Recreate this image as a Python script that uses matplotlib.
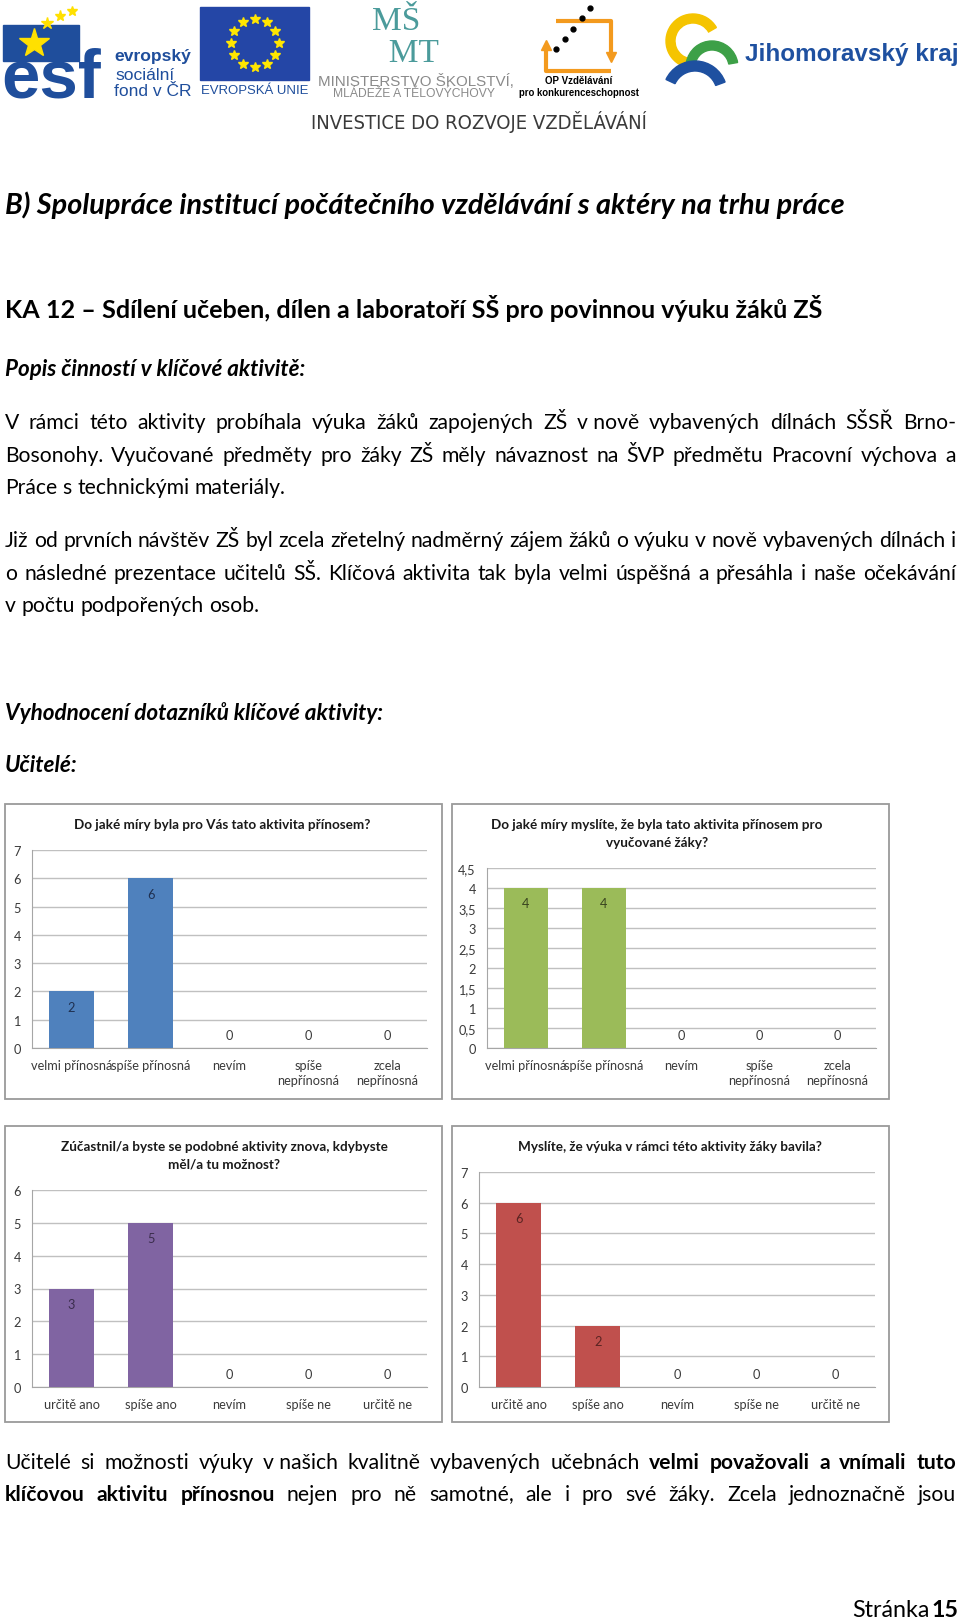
import unicodedata

import matplotlib
matplotlib.use("Agg")
import matplotlib.pyplot as plt
import numpy as np
from matplotlib.patches import Rectangle, Wedge

W, H = 960, 1624
FONT = ["Lato", "DejaVu Sans"]

Q1_TITLE = ["Do jaké míry byla pro Vás tato aktivita přínosem?"]
Q2_TITLE = ["Do jaké míry myslíte, že byla tato aktivita přínosem pro", "vyučované žáky?"]
Q3_TITLE = ["Zúčastnil/a byste se podobné aktivity znova, kdybyste", "měl/a tu možnost?"]
Q4_TITLE = ["Myslíte, že výuka v rámci této aktivity žáky bavila?"]
BENEFIT_LABELS = ["velmi přínosná", "spíše přínosná", "nevím", "spíše\nnepřínosná", "zcela\nnepřínosná"]
YESNO_LABELS = ["určitě ano", "spíše ano", "nevím", "spíše ne", "určitě ne"]
Q1_VALUES = [2, 6, 0, 0, 0]
Q2_VALUES = [4, 4, 0, 0, 0]
Q3_VALUES = [3, 5, 0, 0, 0]
Q4_VALUES = [6, 2, 0, 0, 0]

HEADING = "B) Spolupráce institucí počátečního vzdělávání s aktéry na trhu práce"
KA_TITLE = "KA 12 – Sdílení učeben, dílen a laboratoří SŠ pro povinnou výuku žáků ZŠ"
POPIS = "Popis činností v klíčové aktivitě:"
PARA1 = [
    "V rámci této aktivity probíhala výuka žáků zapojených ZŠ v\u00a0nově vybavených dílnách SŠSŘ Brno-",
    "Bosonohy. Vyučované předměty pro žáky ZŠ měly návaznost na ŠVP předmětu Pracovní výchova a",
    "Práce s technickými materiály.",
]
PARA2 = [
    "Již od prvních návštěv ZŠ byl zcela zřetelný nadměrný zájem žáků o výuku v nově vybavených dílnách i",
    "o následné prezentace učitelů SŠ. Klíčová aktivita tak byla velmi úspěšná a přesáhla i naše očekávání",
    "v počtu podpořených osob.",
]
EVAL = "Vyhodnocení dotazníků klíčové aktivity:"
TEACHERS = "Učitelé:"
PARA3 = [
    [("Učitelé si možnosti výuky v\u00a0našich kvalitně vybavených učebnách", False),
     ("velmi považovali a vnímali tuto", True)],
    [("klíčovou aktivitu přínosnou", True),
     ("nejen pro ně samotné, ale i pro své žáky. Zcela jednoznačně jsou", False)],
]

plt.rcParams["font.family"] = FONT
fig = plt.figure(figsize=(W / 100, H / 100), dpi=100)
page = fig.add_axes([0, 0, 1, 1])
page.set_xlim(0, W)
page.set_ylim(H, 0)
page.axis("off")
renderer = fig.canvas.get_renderer()


def text_width(s, size, **kw):
    t = page.text(0, 0, s, fontsize=size, **kw)
    w = t.get_window_extent(renderer).width
    t.remove()
    return w


def fit(s, width, **kw):
    return 10 * width / text_width(s, 10, **kw)


# ---------------- header logos ----------------
ESF_BLUE = "#1f4e9c"
page.add_patch(Rectangle((3, 26), 76, 36, color=ESF_BLUE))
page.plot([34], [44], marker="*", ms=22, color="#ffe000", mec="#ffe000")
for sx, sy, ms in [(47, 24, 9), (60, 17, 8), (72, 12, 7)]:
    page.plot([sx], [sy], marker="*", ms=ms, color="#ffe000")
sans_kw = dict(family=["Liberation Sans", "DejaVu Sans"])
page.text(1, 98, "esf", fontsize=fit("esf", 100, fontweight="bold", **sans_kw), color=ESF_BLUE,
          va="baseline", fontweight="bold", **sans_kw)
s_esf = fit("evropský", 77, fontweight="bold", **sans_kw)
page.text(114, 57, "evropský", fontsize=s_esf, fontweight="bold", color=ESF_BLUE, va="center", **sans_kw)
page.text(116, 75, "sociální", fontsize=s_esf, color=ESF_BLUE, va="center", **sans_kw)
page.text(114, 91, "fond v ČR", fontsize=s_esf, color=ESF_BLUE, va="center", **sans_kw)

page.add_patch(Rectangle((200, 8), 109, 73, color="#2446a6"))
ang = np.linspace(0, 2 * np.pi, 13)[:-1]
page.plot(254.5 + 24 * np.cos(ang), 44 + 24 * np.sin(ang), ls="none", marker="*", ms=7, color="#ffe600")
page.text(255, 91, "EVROPSKÁ UNIE", fontsize=fit("EVROPSKÁ UNIE", 107, **sans_kw), color=ESF_BLUE,
          ha="center", va="center", **sans_kw)

serif_kw = dict(family=["Liberation Serif", "DejaVu Serif"])
page.text(372, 6, "MŠ\n  MT", fontsize=24, color="#4b9b9b", va="top", linespacing=1.1, **serif_kw)
page.text(416, 81, "MINISTERSTVO ŠKOLSTVÍ,", fontsize=fit("MINISTERSTVO ŠKOLSTVÍ,", 196, **sans_kw),
          color="#8a8a8a", ha="center", va="center", **sans_kw)
page.text(414, 94, "MLÁDEŽE A TĚLOVÝCHOVY", fontsize=fit("MLÁDEŽE A TĚLOVÝCHOVY", 161, **sans_kw),
          color="#8a8a8a", ha="center", va="center", **sans_kw)

orange = "#f39a1e"
page.plot([556, 611, 611], [22, 22, 58], color=orange, lw=3, solid_capstyle="butt")
page.plot([611], [58], marker="v", ms=7, color=orange)
page.plot([546, 546, 611], [46, 72, 72], color=orange, lw=3, solid_capstyle="butt")
page.plot([546], [46], marker="^", ms=7, color=orange)
page.plot(np.linspace(590, 556, 5), np.linspace(9, 50, 5), ls="none", marker="o", ms=3.5, color="black")
op_kw = dict(fontweight="bold", **sans_kw)
page.text(579, 81, "OP Vzdělávání", fontsize=fit("OP Vzdělávání", 67, **op_kw), ha="center", va="center", **op_kw)
page.text(579, 93, "pro konkurenceschopnost", fontsize=fit("pro konkurenceschopnost", 120, **op_kw),
          ha="center", va="center", **op_kw)

page.add_patch(Wedge((693, 42), 27, 100, 330, width=9, color="#f5c400"))
page.add_patch(Wedge((712, 68), 26, 190, 350, width=9, color="#3da047"))
page.add_patch(Wedge((695, 94), 32, 205, 340, width=10, color="#1e50a0"))
page.text(745, 54, "Jihomoravský kraj", fontsize=fit("Jihomoravský kraj", 213, **op_kw), color="#1e50a0",
          va="center", **op_kw)

inv_kw = dict(family=["DejaVu Sans"], fontstretch="condensed")
page.text(479, 122, "INVESTICE DO ROZVOJE VZDĚLÁVÁNÍ",
          fontsize=fit("INVESTICE DO ROZVOJE VZDĚLÁVÁNÍ", 337, **inv_kw), color="#3a3a3a",
          ha="center", va="center", **inv_kw)

# ---------------- document text ----------------
X0, X1 = 5, 956
page.text(X0, 205, HEADING, fontsize=fit(HEADING, 835, fontweight="bold", style="italic"),
          fontweight="bold", style="italic", va="center")
page.text(X0, 308, KA_TITLE, fontsize=fit(KA_TITLE, 819, fontweight="bold"), fontweight="bold", va="center")
page.text(X0, 370, POPIS, fontsize=fit(POPIS, 299, fontweight="bold", style="italic"),
          fontweight="bold", style="italic", va="center")
s_eval = fit(EVAL, 378, fontweight="bold", style="italic")
page.text(X0, 713, EVAL, fontsize=s_eval, fontweight="bold", style="italic", va="center")
page.text(X0, 766, TEACHERS, fontsize=s_eval, fontweight="bold", style="italic", va="center")

body = fit("Práce s technickými materiály.", 283)


def tokens_of(segments):
    out = []
    for s, b in segments:
        s = unicodedata.normalize("NFC", s)
        out += [(w, b) for w in s.split(" ") if w]
    return out


def weight(b):
    return "bold" if b else "normal"


all_lines = [tokens_of([(l, False)]) for l in PARA1 + PARA2] + [tokens_of(l) for l in PARA3]
space = text_width("a a", body) - 2 * text_width("a", body)
for toks in all_lines:
    nat = sum(text_width(t, body, fontweight=weight(b)) for t, b in toks) + space * (len(toks) - 1)
    if nat > X1 - X0:
        body *= (X1 - X0) / nat
space = text_width("a a", body) - 2 * text_width("a", body)
base_off = 0.27 * body * 100 / 72


def put_word(x, y, t, b):
    # a trailing comma is drawn on its own so it can't nudge the word's baseline
    if t.endswith(",") and len(t) > 1:
        stem = t[:-1]
        page.text(x, y, stem, fontsize=body, fontweight=weight(b), va="baseline")
        page.text(x + text_width(stem, body, fontweight=weight(b)), y, ",", fontsize=body,
                  fontweight=weight(b), va="baseline")
    else:
        page.text(x, y, t, fontsize=body, fontweight=weight(b), va="baseline")


def put_line(toks, y, justify=True):
    widths = [text_width(t, body, fontweight=weight(b)) for t, b in toks]
    gap = (X1 - X0 - sum(widths)) / (len(toks) - 1) if justify else space
    x = X0
    for (t, b), w in zip(toks, widths):
        put_word(x, y + base_off, t, b)
        x += w + gap


for lines, ys in [(PARA1, [423, 456, 488]), (PARA2, [541, 574, 606])]:
    for i, (l, y) in enumerate(zip(lines, ys)):
        put_line(tokens_of([(l, False)]), y, justify=i < len(lines) - 1)
for l, y in zip(PARA3, [1463, 1495]):
    put_line(tokens_of(l), y)

page_size = body * 1.1
w15 = text_width("15", page_size, fontweight="bold")
page.text(958, 1611 + base_off * 1.1, "15", fontsize=page_size, fontweight="bold", ha="right", va="baseline")
page.text(958 - w15 - space * 0.35, 1611 + base_off * 1.1, "Stránka", fontsize=page_size, ha="right",
          va="baseline")

# ---------------- charts ----------------
title_size = fit(Q1_TITLE[0], 296, fontweight="bold")
tick_size = fit("spíše přínosná", 75) * 1.06


def bar_chart(box, plot, title, title_ys, title_x, labels, values, color, label_color, ymax, step):
    bx0, by0, bx1, by1 = box
    page.add_patch(Rectangle((bx0, by0), bx1 - bx0, by1 - by0, fill=False, ec="#9a9a9a", lw=1.3))
    for line, ty in zip(title, title_ys):
        page.text(title_x, ty, line, fontsize=title_size, fontweight="bold", ha="center", va="center",
                  color="#1a1a1a")
    px0, py0, px1, py1 = plot
    ax = fig.add_axes([px0 / W, 1 - py1 / H, (px1 - px0) / W, (py1 - py0) / H])
    x = np.arange(len(values))
    ax.bar(x, values, width=0.57, color=color, zorder=3)
    ax.set_xlim(-0.5, len(values) - 0.5)
    ax.set_ylim(0, ymax)
    ticks = np.arange(0, ymax + step / 2, step)
    ax.set_yticks(ticks, [f"{t:g}".replace(".", ",") for t in ticks])
    ax.set_xticks(x, labels)
    for lab in ax.get_xticklabels():
        lab.set_linespacing(1.3)
    ax.yaxis.grid(True, color="#c0c0c0", lw=1)
    ax.set_axisbelow(True)
    for s in ["top", "right"]:
        ax.spines[s].set_visible(False)
    for s in ["left", "bottom"]:
        ax.spines[s].set_color("#a6a6a6")
    ax.tick_params(length=0, labelsize=tick_size, colors="#3a3a3a")
    ax.tick_params(axis="y", pad=8)
    ax.tick_params(axis="x", pad=8)
    for xi, v in zip(x, values):
        if v > 0:
            ax.annotate(str(v), (xi, v), xytext=(0, -11), textcoords="offset points", ha="center",
                        va="center", fontsize=tick_size, color=label_color)
        else:
            ax.annotate(str(v), (xi, 0), xytext=(0, 9.5), textcoords="offset points", ha="center",
                        va="center", fontsize=tick_size, color="#3a3a3a")


bar_chart((5, 805, 442, 1100), (32, 851, 427, 1049), Q1_TITLE, [825], 222,
          BENEFIT_LABELS, Q1_VALUES, "#4f81bd", "#1f3050", 7, 1)
bar_chart((452, 805, 889, 1100), (487, 869, 876, 1049), Q2_TITLE, [825, 843], 657,
          BENEFIT_LABELS, Q2_VALUES, "#9bbb59", "#38441f", 4.5, 0.5)
bar_chart((5, 1127, 442, 1423), (32, 1191, 427, 1388), Q3_TITLE, [1147, 1165], 224,
          YESNO_LABELS, Q3_VALUES, "#8064a2", "#3b2d4d", 6, 1)
bar_chart((452, 1127, 889, 1423), (479, 1173, 875, 1388), Q4_TITLE, [1147], 670,
          YESNO_LABELS, Q4_VALUES, "#c0504d", "#5a2422", 7, 1)

fig.savefig("out.png", dpi=100)
